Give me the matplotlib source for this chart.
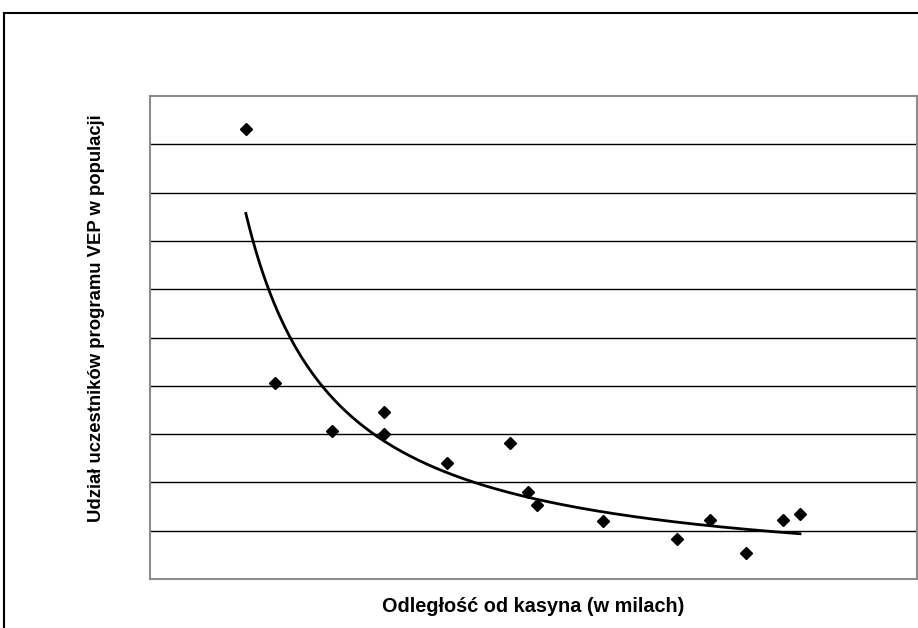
import matplotlib
matplotlib.use("Agg")
import matplotlib.pyplot as plt
import numpy as np
from matplotlib.patches import Rectangle

# distance from casino (miles) and share of VEP participants
distance = [5.0, 6.5, 9.5, 12.2, 12.2, 15.5, 18.8, 19.7, 20.2, 23.6, 27.5, 29.2, 31.1, 33.0, 33.9]
share = [9.32, 4.06, 3.06, 3.46, 3.00, 2.40, 2.82, 1.80, 1.53, 1.20, 0.83, 1.22, 0.54, 1.22, 1.35]

plt.rcParams["font.family"] = ["Liberation Sans", "DejaVu Sans"]

fig = plt.figure(figsize=(9.18, 6.28), dpi=100)
ax = fig.add_axes([150 / 918, 1 - 579 / 628, 767 / 918, 483 / 628])

# power trendline, as a spreadsheet would fit it
b, log_a = np.polyfit(np.log(distance), np.log(share), 1)
xs = np.linspace(min(distance), max(distance), 200)
ax.plot(xs, np.exp(log_a) * xs ** b, color="black", linewidth=2)

ax.plot(distance, share, linestyle="none", marker="D", markersize=6.3, color="black")

ax.set_xlim(0, 40)
ax.set_ylim(0, 10)
ax.set_yticks(np.arange(1, 10))
ax.set_xticks([])
ax.tick_params(axis="y", length=0, labelleft=False)
ax.grid(axis="y", color="black", linewidth=1)
for spine in ax.spines.values():
    spine.set_color("#8c8c8c")
    spine.set_linewidth(1.5)

fig.text(97 / 918, 1 - 318 / 628, "Udział uczestników programu VEP w populacji", fontsize=13.3,
         fontweight="bold", rotation=90, ha="center", va="center")
fig.text(533 / 918, 1 - 606 / 628, "Odległość od kasyna (w milach)", fontsize=14.3, fontweight="bold",
         ha="center", va="center")

# outer chart frame, cut off at the right and bottom
fig.patches.append(Rectangle((4 / 918, -0.1), 1.2, 1 - 13 / 628 + 0.1, transform=fig.transFigure,
                             fill=False, edgecolor="black", linewidth=1.5))

fig.savefig("out.png", dpi=100)
